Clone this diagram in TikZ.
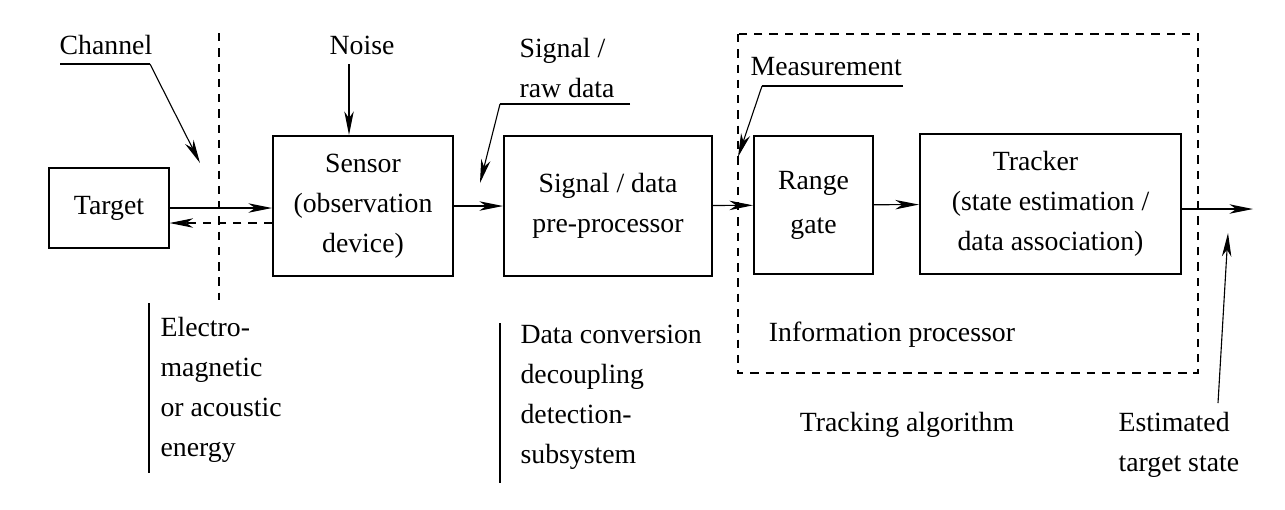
\documentclass[tikz,border=0pt]{standalone}
\usepackage{fontspec}
\setmainfont{Liberation Serif}
\usetikzlibrary{arrows.meta}

\begin{document}
\begin{tikzpicture}
			[x=0.36pt,y=-0.36pt,every node/.style={inner sep=0pt,font=\fontsize{10}{14.4}\selectfont},
			box/.style={draw=black,line width=0.75pt,align=center},
			arr/.style={line width=0.4pt,-{Stealth[length=8.5pt,width=3.4pt,inset=2.5pt]}},
			lead/.style={line width=0.4pt},
			dsh/.style={line width=0.4pt,dash pattern=on 3pt off 2.5pt}]
			\useasboundingbox (0,0) rectangle (1285,509);
			\node (1) [box, line width=0.4pt, minimum width=43.2pt, minimum height=28.8pt] at (109,208) {Target};
			\node (2) [box, minimum width=64.8pt, minimum height=50.4pt] at (363,206) {Sensor\\(observation\\device)};
			\node (3) [box, minimum width=74.9pt, minimum height=50.4pt] at (608,206) {Signal / data\\pre-processor};
			\node (4) [box, minimum width=42.8pt, minimum height=49.7pt] at (813.5,205) {Range\\[1.5pt]gate};
			\node (5) [box, minimum width=94pt, minimum height=50.4pt] at (1050.5,204) {Tracker\hspace*{10.8pt}\\(state estimation /\\data association)};
			\node (6) at (106,45) {Channel};
			\node (7) at (362,45) {Noise};
			\node (8) [anchor=west, align=left] at (519,68) {Signal /\\raw data};
			\node (9) [anchor=west] at (750,67) {Measurement};
			\node (10) at (892,335) {Information processor};
			\node (11) at (907,425) {Tracking algorithm};
			\node (12) [anchor=west, align=left] at (1118,445) {Estimated\\target state};
			\node (13) [anchor=west, align=left] at (160,390) {Electro-\\magnetic\\or acoustic\\energy};
			\node (14) [anchor=west, align=left] at (520,397) {Data conversion\\decoupling\\detection-\\subsystem};
			\coordinate (c1) at (60,64);
			\coordinate (c2) at (150,64);
			\coordinate (c3) at (200,163);
			\coordinate (n1) at (349,64);
			\coordinate (s1) at (630,104);
			\coordinate (s2) at (500,104);
			\coordinate (s3) at (480,183);
			\coordinate (m1) at (903,86);
			\coordinate (m2) at (762,86);
			\coordinate (m3) at (738,157);
			\coordinate (e1) at (1218,403);
			\coordinate (e2) at (1228,233);
			\coordinate (o1) at (1253,209);
			\coordinate (b1) at ([yshift=-5.4pt]1.east);
			\draw [dsh] (219,33) -- (219,300);
			\draw [dsh] (738,34) rectangle (1198,373);
			\draw [lead] (149,303) -- (149,473);
			\draw [lead] (500,323) -- (500,483);
			\draw [lead] (c1) -- (c2);
			\draw [arr] (c2) -- (c3);
			\draw [arr] (n1) -- (n1 |- 2.north);
			\draw [lead] (s1) -- (s2);
			\draw [arr] (s2) -- (s3);
			\draw [lead] (m1) -- (m2);
			\draw [arr] (m2) -- (m3);
			\draw [arr] (1.east) -- (1.east -| 2.west);
			\draw [arr, dsh] (b1 -| 2.west) -- (b1);
			\draw [arr] (2) -- (3);
			\draw [arr] (3) -- (4);
			\draw [arr] (4) -- (5);
			\draw [arr] (5.east |- o1) -- (o1);
			\draw [arr] (e1) -- (e2);
		\end{tikzpicture}
\end{document}
